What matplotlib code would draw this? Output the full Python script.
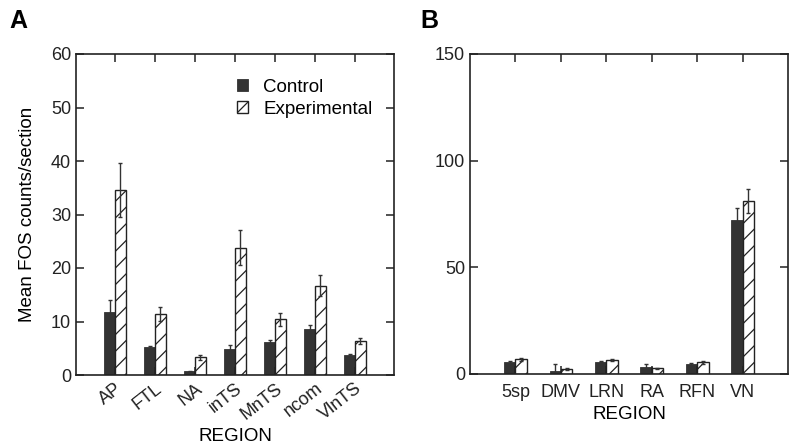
import matplotlib
matplotlib.use("Agg")
import matplotlib.pyplot as plt
import numpy as np

plt.rcParams['font.family'] = ['Liberation Sans', 'DejaVu Sans']
plt.rcParams['hatch.linewidth'] = 0.9

# Panel A data
regions_a = ["AP", "FTL", "NA", "inTS", "MnTS", "ncom", "VlnTS"]
control_a = [11.8, 5.2, 0.7, 4.9, 6.2, 8.6, 3.7]
control_a_err = [2.2, 0.3, 0.1, 0.8, 0.3, 0.7, 0.2]
exper_a = [34.6, 11.4, 3.3, 23.8, 10.4, 16.7, 6.4]
exper_a_err = [5.0, 1.3, 0.5, 3.3, 1.2, 1.9, 0.6]
yticks_a = [0, 10, 20, 30, 40, 50, 60]

# Panel B data
regions_b = ["5sp", "DMV", "LRN", "RA", "RFN", "VN"]
control_b = [5.5, 1.3, 5.8, 3.3, 4.7, 72.1]
control_b_err = [0.6, 3.2, 0.3, 1.2, 0.3, 5.7]
exper_b = [6.9, 2.2, 6.6, 2.7, 5.6, 81.2]
exper_b_err = [0.8, 0.4, 0.6, 0.3, 0.7, 5.5]
yticks_b = [0, 50, 100, 150]

dark = "#333333"
W, H = 800, 446
fig = plt.figure(figsize=(8.0, 4.46), dpi=100)

axA = fig.add_axes([76 / W, (H - 375) / H, 318 / W, 321 / H])
axB = fig.add_axes([470 / W, (H - 374) / H, 318 / W, 320 / H])

ekw = dict(ecolor=dark, elinewidth=1.0, capsize=1.5, capthick=1.0)
FS = 13


def style(ax):
    for s in ax.spines.values():
        s.set_linewidth(1.2)
        s.set_color("#222222")
    ax.tick_params(direction="in", length=6, width=1.1, top=True, right=True,
                   labelsize=FS, colors="#222222")
    ax.tick_params(axis="x", which="both", labeltop=False)


# Panel A
xa = np.arange(len(regions_a))
wa = 0.27
axA.bar(xa - wa / 2, control_a, wa, color=dark, edgecolor=dark, linewidth=0.6,
        yerr=control_a_err, error_kw=ekw, label="Control")
axA.bar(xa + wa / 2, exper_a, wa, color="white", edgecolor="#222222", linewidth=1.0,
        hatch="//", yerr=exper_a_err, error_kw=ekw, label="Experimental")
axA.set_xlim(-0.975, len(regions_a) - 0.025)
axA.set_ylim(0, 60)
axA.set_yticks(yticks_a)
axA.set_xticks(xa)
axA.set_xticklabels(regions_a, rotation=38, ha="right", rotation_mode="anchor")
style(axA)
axA.set_ylabel("Mean FOS counts/section", fontsize=FS + 0.5, labelpad=11)
axA.set_xlabel("REGION", fontsize=FS + 0.5, labelpad=3)
leg = axA.legend(loc="upper right", frameon=False, fontsize=FS + 0.5,
                 handlelength=0.6, handleheight=0.6, handletextpad=0.8,
                 labelspacing=0.25, bbox_to_anchor=(0.985, 0.975))

# Panel B
xb = np.arange(len(regions_b))
wb = 0.25
axB.bar(xb - wb / 2, control_b, wb, color=dark, edgecolor=dark, linewidth=0.6,
        yerr=control_b_err, error_kw=ekw)
axB.bar(xb + wb / 2, exper_b, wb, color="white", edgecolor="#222222", linewidth=1.0,
        hatch="//", yerr=exper_b_err, error_kw=ekw)
axB.set_xlim(-1, len(regions_b))
axB.set_ylim(0, 150)
axB.set_yticks(yticks_b)
axB.set_xticks(xb)
axB.set_xticklabels(regions_b)
style(axB)
axB.tick_params(axis="x", pad=7)
axB.set_xlabel("REGION", fontsize=FS + 0.5, labelpad=4)

fig.text(9 / W, 1 - 28 / H, "A", fontsize=18, fontweight="bold")
fig.text(420 / W, 1 - 28 / H, "B", fontsize=18, fontweight="bold")

fig.savefig("out.png", dpi=100)
